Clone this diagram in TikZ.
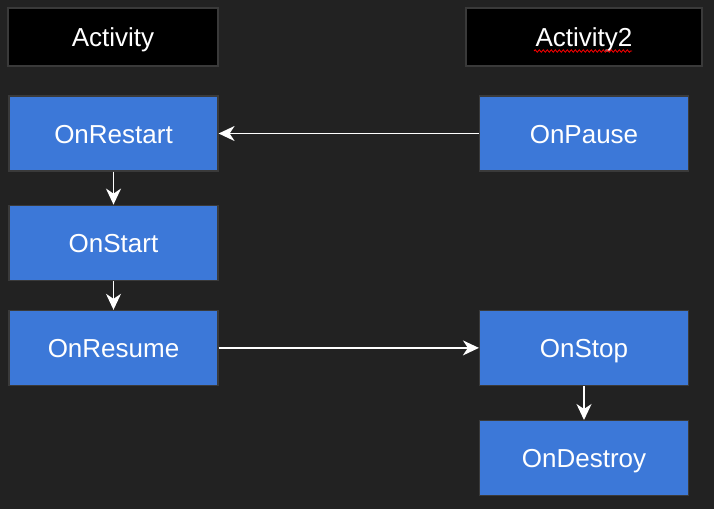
\documentclass[tikz,border=0pt]{standalone}
\usepackage{fontspec}
\setmainfont{Liberation Sans}
\usetikzlibrary{positioning, arrows.meta, calc, decorations.pathmorphing}
\definecolor{bgdark}{HTML}{222222}
\definecolor{boxblue}{HTML}{3C78D8}
\definecolor{edgegray}{HTML}{3A3A3A}
\tikzstyle{state} = [rectangle, draw=edgegray, line width=1.2pt, fill=boxblue, text=white, minimum width=209pt, minimum height=75pt, align=center]
\tikzstyle{arrow} = [white, line width=1.6pt, -{Stealth[length=16pt, width=15pt, inset=5pt]}]

\begin{document}
\begin{tikzpicture}[x=1pt, y=1pt,
    node distance=33pt and 60pt,
    every node/.style={font=\fontsize{26}{30}\selectfont, text height=19pt, text depth=0pt},
    header/.style={rectangle, draw=edgegray, line width=1.2pt, fill=black, text=white, minimum height=58pt, align=center}
  ]
    % background and frame
    \fill[bgdark] (0,0) rectangle (714,-509);
    \useasboundingbox (0,0) rectangle (714,-509);

    % Headers
    \node[header, minimum width=210pt] (A1) at (113,-37) {Activity};
    \node[header, minimum width=236pt] (A2) at (584,-37) {Activity2};
    \draw[red, line width=0.8pt, decorate, decoration={snake, amplitude=1.2pt, segment length=4pt}]
      ($(A2.center)+(-50,-14)$) -- ($(A2.center)+(48,-14)$);

    % Left column
    \node[state] (Restart) at (113.5,-133.5) {OnRestart};
    \node[state, below=33pt of Restart] (Start) {OnStart};
    \node[state, below=29pt of Start] (Resume) {OnResume};

    % Right column
    \node[state] (Pause) at (584,-133.5) {OnPause};
    \node[state] (Stop) at (Pause |- Resume) {OnStop};
    \node[state, below=34pt of Stop] (Destroy) {OnDestroy};

    % Arrows
    \draw[arrow] (Pause) -- (Restart);
    \draw[arrow] (Restart) -- (Start);
    \draw[arrow] (Start) -- (Resume);
    \draw[arrow] (Resume) -- (Stop);
    \draw[arrow] (Stop) -- (Destroy);
  \end{tikzpicture}
\end{document}
